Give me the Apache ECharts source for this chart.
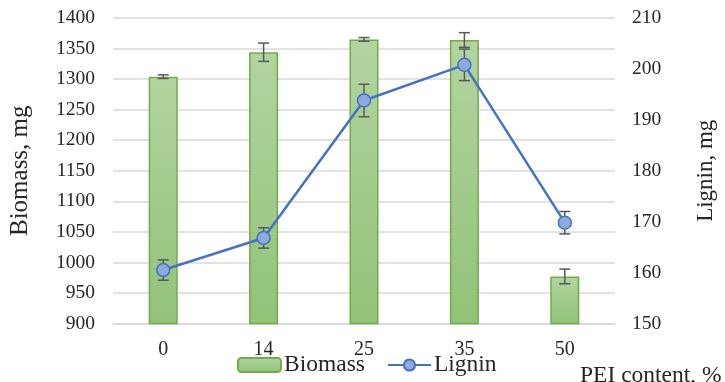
<!DOCTYPE html>
<html>
<head>
<meta charset="utf-8">
<script src="https://cdn.jsdelivr.net/npm/echarts@6/dist/echarts.min.js"></script>
<style>
  html, body { margin: 0; padding: 0; background: #fff; }
  #chart { width: 725px; height: 382px; }
</style>
</head>
<body>
<div id="chart"></div>
<script>
// PEI content categories (%)
const categories = ['0', '14', '25', '35', '50'];
// Biomass (mg) and its standard deviation
const biomass = [1304, 1344, 1365, 1364, 977];
const biomassErr = [3, 15, 3, 12, 12];
// Lignin (mg) and its standard deviation
const lignin = [160.5, 166.8, 193.8, 200.8, 169.8];
const ligninErr = [2, 2, 3.2, 3.1, 2.2];

const FONT = '"Liberation Serif", "Times New Roman", serif';
const TEXT = '#262626';

function errorBarRender(values, errs) {
  return function (params, api) {
    const i = params.dataIndex;
    const hi = api.coord([i, values[i] + errs[i]]);
    const lo = api.coord([i, values[i] - errs[i]]);
    const half = 5.5;
    const style = { stroke: '#595959', lineWidth: 1.5 };
    return {
      type: 'group',
      children: [
        { type: 'line', shape: { x1: hi[0], y1: hi[1], x2: lo[0], y2: lo[1] }, style },
        { type: 'line', shape: { x1: hi[0] - half, y1: hi[1], x2: hi[0] + half, y2: hi[1] }, style },
        { type: 'line', shape: { x1: lo[0] - half, y1: lo[1], x2: lo[0] + half, y2: lo[1] }, style }
      ]
    };
  };
}

const chart = echarts.init(document.getElementById('chart'));
chart.setOption({
  animation: false,
  backgroundColor: '#fff',
  grid: { left: 109.5, right: 97.5, top: 18, bottom: 58.5 },
  legend: {
    left: 237,
    top: 353,
    padding: 0,
    itemWidth: 43,
    itemHeight: 14,
    itemGap: 22,
    textStyle: { fontFamily: FONT, fontSize: 23.5, color: TEXT, padding: [0, 0, 0, -2] },
    data: ['Biomass', 'Lignin']
  },
  xAxis: {
    type: 'category',
    data: categories,
    axisTick: { show: false },
    axisLine: { lineStyle: { color: '#d9d9d9', width: 1.5 } },
    axisLabel: { fontFamily: FONT, fontSize: 20, color: TEXT, margin: 16 }
  },
  yAxis: [
    {
      type: 'value', min: 900, max: 1400, interval: 50,
      name: 'Biomass, mg', nameLocation: 'middle', nameGap: 80, nameRotate: 90,
      nameTextStyle: { fontFamily: FONT, fontSize: 25, color: TEXT },
      axisLine: { show: false }, axisTick: { show: false },
      axisLabel: { fontFamily: FONT, fontSize: 19.5, color: TEXT, margin: 18, formatter: v => String(v) },
      splitLine: { lineStyle: { color: '#d9d9d9', width: 1.5 } }
    },
    {
      type: 'value', min: 150, max: 210, interval: 10,
      name: 'Lignin, mg', nameLocation: 'middle', nameGap: 79, nameRotate: 90,
      nameTextStyle: { fontFamily: FONT, fontSize: 23, color: TEXT },
      axisLine: { show: false }, axisTick: { show: false },
      axisLabel: { fontFamily: FONT, fontSize: 19.5, color: TEXT, margin: 17, formatter: v => String(v) },
      splitLine: { show: false }
    }
  ],
  graphic: [
    {
      type: 'text', left: 580, top: 364,
      style: { text: 'PEI content, %', fontFamily: FONT, fontSize: 23.5, fill: TEXT }
    }
  ],
  series: [
    {
      name: 'Biomass',
      type: 'bar',
      data: biomass,
      barWidth: 29,
      z: 2,
      itemStyle: {
        color: new echarts.graphic.LinearGradient(0, 0, 0, 1, [
          { offset: 0, color: '#b2d4a0' },
          { offset: 1, color: '#92c279' }
        ]),
        borderColor: '#70ad47',
        borderWidth: 1.5
      }
    },
    {
      type: 'custom',
      yAxisIndex: 0,
      z: 3,
      data: biomass,
      renderItem: errorBarRender(biomass, biomassErr),
      silent: true
    },
    {
      type: 'custom',
      yAxisIndex: 1,
      z: 4,
      data: lignin,
      renderItem: errorBarRender(lignin, ligninErr),
      silent: true
    },
    {
      name: 'Lignin',
      type: 'line',
      yAxisIndex: 1,
      data: lignin,
      z: 5,
      symbol: 'circle',
      symbolSize: 13,
      lineStyle: { color: '#4472c4', width: 2.5 },
      itemStyle: { color: '#8ea9db', borderColor: '#4472c4', borderWidth: 1.5 }
    }
  ]
});
</script>
</body>
</html>
